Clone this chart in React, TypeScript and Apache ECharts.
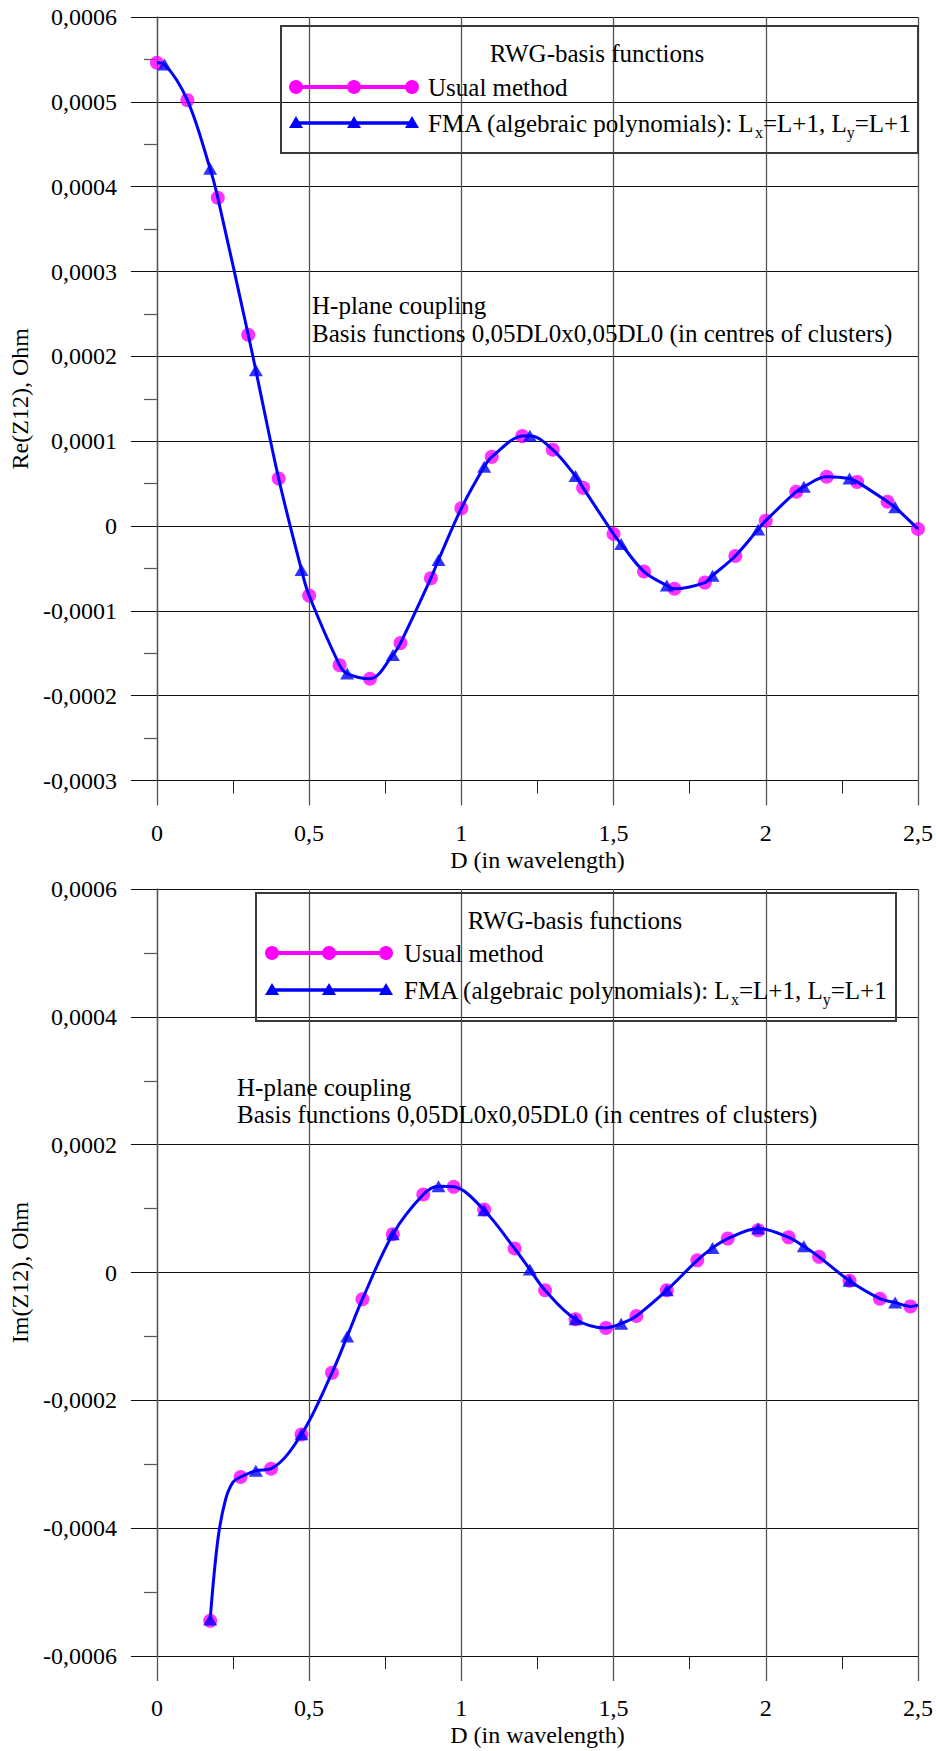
import React, { useEffect, useRef } from 'react';
import * as echarts from 'echarts';

const FONT = 'Liberation Serif, Times New Roman, Times, serif';
const MAGENTA = '#FF00FF';
const BLUE = '#0000FF';

// ---------- Re(Z12) ----------
const reUsualX = [0, 0.1, 0.2, 0.3, 0.4, 0.5, 0.6, 0.7, 0.8, 0.9, 1.0, 1.1, 1.2, 1.3, 1.4, 1.5, 1.6, 1.7, 1.8, 1.9, 2.0, 2.1, 2.2, 2.3, 2.4, 2.5];
const reUsualY = [5.46e-4, 5.02e-4, 3.87e-4, 2.255e-4, 0.56e-4, -0.82e-4, -1.64e-4, -1.80e-4, -1.38e-4, -0.615e-4, 0.208e-4, 0.815e-4, 1.06e-4, 0.90e-4, 0.45e-4, -0.094e-4, -0.537e-4, -0.74e-4, -0.667e-4, -0.353e-4, 0.063e-4, 0.404e-4, 0.58e-4, 0.52e-4, 0.286e-4, -0.035e-4];
const reFmaX = [0.025, 0.175, 0.325, 0.475, 0.625, 0.775, 0.925, 1.075, 1.225, 1.375, 1.525, 1.675, 1.825, 1.975, 2.125, 2.275, 2.425];
const reFmaY = [5.44e-4, 4.21e-4, 1.835e-4, -0.518e-4, -1.74e-4, -1.52e-4, -0.40e-4, 0.698e-4, 1.063e-4, 0.588e-4, -0.212e-4, -0.702e-4, -0.585e-4, -0.04e-4, 0.463e-4, 0.56e-4, 0.22e-4];
const reCurveExtraX: number[] = [];
const reCurveExtraY: number[] = [];

// ---------- Im(Z12) ----------
const imUsualX = [0.175, 0.275, 0.375, 0.475, 0.575, 0.675, 0.775, 0.875, 0.975, 1.075, 1.175, 1.275, 1.375, 1.475, 1.575, 1.675, 1.775, 1.875, 1.975, 2.075, 2.175, 2.275, 2.375, 2.475];
const imUsualY = [-5.45e-4, -3.20e-4, -3.07e-4, -2.535e-4, -1.57e-4, -0.418e-4, 0.60e-4, 1.22e-4, 1.34e-4, 0.986e-4, 0.375e-4, -0.277e-4, -0.73e-4, -0.867e-4, -0.68e-4, -0.277e-4, 0.19e-4, 0.53e-4, 0.66e-4, 0.55e-4, 0.245e-4, -0.13e-4, -0.41e-4, -0.53e-4];
const imFmaX = [0.175, 0.325, 0.475, 0.625, 0.775, 0.925, 1.075, 1.225, 1.375, 1.525, 1.675, 1.825, 1.975, 2.125, 2.275, 2.425];
const imFmaY = [-5.43e-4, -3.10e-4, -2.53e-4, -1.0e-4, 0.60e-4, 1.35e-4, 0.975e-4, 0.047e-4, -0.73e-4, -0.80e-4, -0.277e-4, 0.385e-4, 0.69e-4, 0.41e-4, -0.13e-4, -0.47e-4];
const imCurveExtraX = [0.2, 0.225, 0.25, 2.5];
const imCurveExtraY = [-4.19e-4, -3.56e-4, -3.28e-4, -0.51e-4];

// ---------- texts ----------
const xAxisName = 'D (in wavelength)';
const reAxisName = 'Re(Z12), Ohm';
const imAxisName = 'Im(Z12), Ohm';
const legendTitle = 'RWG-basis functions';
const usualName = 'Usual method';
const noteLine1 = 'H-plane coupling';
const noteLine2 = 'Basis functions 0,05DL0x0,05DL0 (in centres of clusters)';

const pairs = (xs: number[], ys: number[]) => xs.map((x, i) => [x, ys[i]]);

function mergeCurve(sets: [number[], number[]][]) {
  const m = new Map<string, number[]>();
  for (const [xs, ys] of sets) xs.forEach((x, i) => m.set(x.toFixed(3), [x, ys[i]]));
  return Array.from(m.values()).sort((a, b) => a[0] - b[0]);
}

const yFmt = (v: number) => (Math.abs(v) < 1e-12 ? '0' : v.toFixed(4).replace('.', ','));
const xFmt = (v: number) => String(Math.round(v * 100) / 100).replace('.', ',');

const TXT = 25;

function legendGraphics(left: number, top: number, width: number, height: number, titleX: number, titleY: number, row1: number, row2: number, lx0: number, lx1: number, tx: number) {
  const lm = (lx0 + lx1) / 2;
  const tri = (cx: number, cy: number) => ({
    type: 'polygon',
    shape: { points: [[cx - 7, cy + 5], [cx + 7, cy + 5], [cx, cy - 7]] },
    style: { fill: BLUE },
    z: 101,
  });
  const circ = (cx: number, cy: number) => ({
    type: 'circle',
    shape: { cx, cy, r: 7 },
    style: { fill: MAGENTA },
    z: 101,
  });
  return [
    {
      type: 'rect',
      shape: { x: left, y: top, width, height },
      style: { fill: 'none', stroke: '#3a3a3a', lineWidth: 2 },
      z: 100,
    },
    {
      type: 'text',
      x: titleX,
      y: titleY,
      style: { text: legendTitle, fontSize: TXT, fontFamily: FONT, fill: '#000', align: 'center', verticalAlign: 'middle' },
      z: 101,
    },
    {
      type: 'line',
      shape: { x1: lx0, y1: row1, x2: lx1, y2: row1 },
      style: { stroke: MAGENTA, lineWidth: 4 },
      z: 100,
    },
    circ(lx0, row1),
    circ(lm, row1),
    circ(lx1, row1),
    {
      type: 'text',
      x: tx,
      y: row1,
      style: { text: usualName, fontSize: TXT, fontFamily: FONT, fill: '#000', align: 'left', verticalAlign: 'middle' },
      z: 101,
    },
    {
      type: 'line',
      shape: { x1: lx0, y1: row2, x2: lx1, y2: row2 },
      style: { stroke: BLUE, lineWidth: 3.5 },
      z: 100,
    },
    tri(lx0, row2),
    tri(lm, row2),
    tri(lx1, row2),
    {
      type: 'text',
      x: tx,
      y: row2,
      style: {
        text: '{n|FMA (algebraic polynomials): L}{s|x}{n|=L+1, L}{s|y}{n|=L+1}',
        fontSize: TXT,
        fontFamily: FONT,
        fill: '#000',
        align: 'left',
        verticalAlign: 'middle',
        rich: {
          n: { fontSize: TXT, fontFamily: FONT, fill: '#000' },
          s: { fontSize: 16, fontFamily: FONT, fill: '#000', padding: [18, 0, 0, 0] },
        },
      },
      z: 101,
    },
  ];
}

function noteGraphics(x: number, y1: number, y2: number) {
  return [noteLine1, noteLine2].map((t, i) => ({
    type: 'text',
    x,
    y: i === 0 ? y1 : y2,
    style: { text: t, fontSize: TXT, fontFamily: FONT, fill: '#000', align: 'left', verticalAlign: 'middle' },
    z: 90,
  }));
}

function makeXAxis(gridIndex: number) {
  return {
    type: 'value',
    gridIndex,
    min: 0,
    max: 2.5,
    interval: 0.5,
    name: xAxisName,
    nameLocation: 'middle',
    nameGap: 67,
    nameTextStyle: { fontSize: 24, fontFamily: FONT, color: '#000' },
    axisLine: { show: true, onZero: false, lineStyle: { color: '#111', width: 1 } },
    axisTick: { show: true, inside: false, length: 25, lineStyle: { color: '#555', width: 1.3 } },
    minorTick: { show: true, splitNumber: 2, length: 13, lineStyle: { color: '#222', width: 1 } },
    axisLabel: { margin: 40, fontSize: 24, fontFamily: FONT, color: '#000', formatter: xFmt },
    splitLine: { show: true, lineStyle: { color: '#555', width: 1.3 } },
  };
}

function makeYAxis(gridIndex: number, min: number, max: number, interval: number, name: string, gap: number) {
  return {
    type: 'value',
    gridIndex,
    min,
    max,
    interval,
    name,
    nameLocation: 'middle',
    nameRotate: 90,
    nameGap: gap,
    nameTextStyle: { fontSize: 24, fontFamily: FONT, color: '#000' },
    axisLine: { show: true, onZero: false, lineStyle: { color: '#555', width: 1.3 } },
    axisTick: { show: true, inside: false, length: 26, lineStyle: { color: '#111', width: 1 } },
    minorTick: { show: true, splitNumber: 2, length: 13, lineStyle: { color: '#555', width: 1.2 } },
    axisLabel: { margin: 40, fontSize: 24, fontFamily: FONT, color: '#000', formatter: yFmt },
    splitLine: { show: true, lineStyle: { color: '#111', width: 1 } },
  };
}

function seriesFor(idx: number, ux: number[], uy: number[], fx: number[], fy: number[], ex: number[], ey: number[]) {
  return [
    {
      name: usualName,
      type: 'scatter',
      xAxisIndex: idx,
      yAxisIndex: idx,
      data: pairs(ux, uy),
      symbol: 'circle',
      symbolSize: 14,
      itemStyle: { color: MAGENTA },
      z: 2,
    },
    {
      name: 'FMA curve',
      type: 'line',
      xAxisIndex: idx,
      yAxisIndex: idx,
      data: mergeCurve([[ux, uy], [fx, fy], [ex, ey]]),
      showSymbol: false,
      smooth: 0.35,
      lineStyle: { color: BLUE, width: 3 },
      z: 3,
    },
    {
      name: 'FMA (algebraic polynomials)',
      type: 'scatter',
      xAxisIndex: idx,
      yAxisIndex: idx,
      data: pairs(fx, fy),
      symbol: 'triangle',
      symbolSize: [14, 12],
      itemStyle: { color: BLUE },
      z: 4,
    },
  ];
}

export default function App() {
  const ref = useRef<HTMLDivElement>(null);
  useEffect(() => {
    if (!ref.current) return;
    const chart = echarts.init(ref.current, undefined, { renderer: 'svg' });
    chart.setOption({
      animation: false,
      backgroundColor: '#fff',
      textStyle: { fontFamily: FONT },
      grid: [
        { left: 155, top: 17, width: 764, height: 763.5 },
        { left: 153, top: 889, width: 768, height: 767 },
      ],
      xAxis: [makeXAxis(0), makeXAxis(1)],
      yAxis: [
        makeYAxis(0, -0.0003, 0.0006, 0.0001, reAxisName, 124),
        makeYAxis(1, -0.0006, 0.0006, 0.0002, imAxisName, 122),
      ],
      series: [
        ...seriesFor(0, reUsualX, reUsualY, reFmaX, reFmaY, reCurveExtraX, reCurveExtraY),
        ...seriesFor(1, imUsualX, imUsualY, imFmaX, imFmaY, imCurveExtraX, imCurveExtraY),
      ],
      graphic: [
        ...legendGraphics(281, 26, 637, 127, 597, 53, 87, 123, 296, 412, 428),
        ...legendGraphics(256, 893, 640, 128, 575, 920, 953, 990, 272, 386, 404),
        ...noteGraphics(312, 305, 333),
        ...noteGraphics(237, 1087, 1114),
      ],
    });
    return () => chart.dispose();
  }, []);
  return (
    <div
      ref={ref}
      style={{ position: 'absolute', left: 0, top: 0, width: 936, height: 1751, background: '#fff' }}
    />
  );
}
